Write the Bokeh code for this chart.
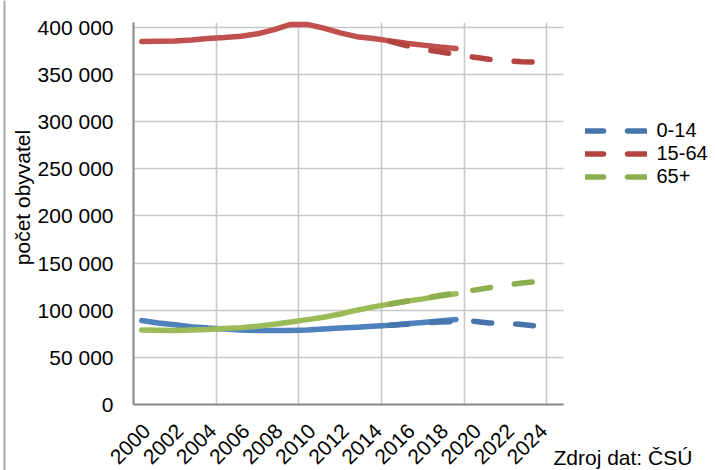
from math import pi
from bokeh.plotting import figure
from bokeh.models import (FixedTicker, Legend, LegendItem, Label, Range1d, Grid, Span)
from bokeh.embed import file_html
from bokeh.resources import INLINE

# ---- data ----
years_actual = list(range(2000, 2020))
years_proj = list(range(2015, 2025))

age_0_14 = [89000, 86500, 84500, 82500, 81000, 80000, 79000, 78500, 78500, 78500,
            79000, 80000, 81000, 82000, 83000, 84000, 85500, 87000, 88500, 90000]
age_15_64 = [384800, 385000, 385500, 386500, 388000, 389000, 390500, 393000, 397500, 403000,
             403000, 399000, 394000, 390000, 388000, 385500, 383000, 381000, 379000, 377500]
age_65 = [79000, 78800, 78500, 79000, 79500, 80500, 81500, 83000, 85000, 87500,
          90000, 92500, 96000, 100000, 103500, 106500, 109500, 112000, 115000, 117500]

proj_0_14 = [84000, 85000, 86500, 87500, 88000, 88500, 86500, 86300, 84800, 83000]
proj_15_64 = [385000, 380500, 376500, 374000, 371000, 368500, 366000, 364500, 363500, 363000]
proj_65 = [106500, 109500, 112500, 115500, 118500, 121000, 123800, 126500, 128800, 130500]

series_labels = ["0-14", "15-64", "65+"]
x_label_years = list(range(2000, 2025, 2))
y_ticks = [0, 50000, 100000, 150000, 200000, 250000, 300000, 350000, 400000]
y_tick_labels = ["0", "50 000", "100 000", "150 000", "200 000", "250 000",
                 "300 000", "350 000", "400 000"]
y_title = "počet obyvatel"
source_note = "Zdroj dat: ČSÚ"

# ---- layout (pixel geometry of the plot area inside the 715x470 canvas) ----
W, H = 715, 470
PL, PR, PT, PB = 133, 563, 22, 404          # plot-area edges in pixels
X0, X1 = 1999.5, 2025.5                    # category axis extent (26 years)
Y0, Y1 = 0, 405000
kx = (X1 - X0) / (PR - PL)
ky = (Y1 - Y0) / (PB - PT)
x_range = Range1d(X0 - PL * kx, X1 + (W - PR) * kx)
y_range = Range1d(Y0 - (H - PB) * ky, Y1 + PT * ky)

FONT = "Liberation Sans"
col_solid = ["#4F81BD", "#C0504D", "#9BBB59"]
col_dash = ["#4674AB", "#B3433F", "#8DAE4E"]
LW = 5.5
GRID_COL = "#C8C8C8"
AXIS_COL = "#8C8C8C"

p = figure(width=W, height=H, output_backend="svg", toolbar_location=None,
           x_range=x_range, y_range=y_range,
           min_border_left=0, min_border_right=0, min_border_top=0,
           min_border_bottom=0)
p.outline_line_color = None
p.background_fill_color = "white"
p.border_fill_color = "white"

# chart-area border on the far left
p.add_layout(Span(location=x_range.start + 4 * kx, dimension="height",
                  line_color="#A6A6A6", line_width=2))

# grids: vertical lines every 5 categories (category boundaries)
grid_x = [X0 + 5 * i for i in range(6)]
has_cross = "cross_bounds" in Grid.properties()
if has_cross:
    p.xgrid.ticker = FixedTicker(ticks=grid_x)
    p.ygrid.ticker = FixedTicker(ticks=y_ticks)
    p.xgrid.cross_bounds = (Y0, Y1)
    p.ygrid.cross_bounds = (X0, X1)
    for g in (p.xgrid[0], p.ygrid[0]):
        g.grid_line_color = GRID_COL
        g.grid_line_width = 1.6
else:
    p.xgrid.visible = False
    p.ygrid.visible = False
    p.segment(x0=grid_x, y0=[Y0] * len(grid_x), x1=grid_x, y1=[Y1] * len(grid_x),
              line_color=GRID_COL, line_width=1.6)
    p.segment(x0=[X0] * len(y_ticks), y0=y_ticks, x1=[X1] * len(y_ticks), y1=y_ticks,
              line_color=GRID_COL, line_width=1.6)

# x axis (rotated labels, anchored a little right of the category centre, as in Excel)
label_shift = 5 * kx
x_tick_pos = [yr + label_shift for yr in x_label_years]
xa = p.xaxis[0]
xa.fixed_location = Y0
xa.bounds = (X0, X1)
xa.ticker = FixedTicker(ticks=x_tick_pos)
xa.major_label_overrides = {t: str(yr) for t, yr in zip(x_tick_pos, x_label_years)}
xa.major_label_orientation = pi / 4
xa.major_tick_in = 0
xa.major_tick_out = 0
xa.minor_tick_in = 0
xa.minor_tick_out = 0
xa.major_label_standoff = 23
xa.axis_line_color = AXIS_COL
xa.axis_line_width = 2
xa.major_label_text_font = FONT
xa.major_label_text_font_size = "21px"
xa.major_label_text_color = "#000000"

# y axis
ya = p.yaxis[0]
ya.fixed_location = X0
ya.bounds = (Y0, Y1)
ya.ticker = FixedTicker(ticks=y_ticks)
ya.major_label_overrides = {t: lab for t, lab in zip(y_ticks, y_tick_labels)}
ya.major_tick_in = 0
ya.major_tick_out = 0
ya.minor_tick_in = 0
ya.minor_tick_out = 0
ya.major_label_standoff = 20
ya.axis_line_color = AXIS_COL
ya.axis_line_width = 2
ya.major_label_text_font = FONT
ya.major_label_text_font_size = "21px"
ya.major_label_text_color = "#000000"

# actual data (solid)
for ys, c in zip([age_0_14, age_15_64, age_65], col_solid):
    p.line(years_actual, ys, line_color=c, line_width=LW,
           line_cap="round", line_join="round")

# projections (dashed)
proj_renderers = []
for ys, c in zip([proj_0_14, proj_15_64, proj_65], col_dash):
    r = p.line(years_proj, ys, line_color=c, line_width=LW, line_dash="18 24",
               line_cap="round", line_join="round")
    proj_renderers.append(r)

legend = Legend(items=[LegendItem(label=lab, renderers=[r])
                       for lab, r in zip(series_labels, proj_renderers)],
                location=(584.5, H - 187.5), padding=0, margin=0, spacing=0,
                label_height=23, glyph_height=23, glyph_width=62,
                label_standoff=10, border_line_color=None,
                background_fill_alpha=0,
                label_text_font=FONT, label_text_font_size="20px",
                label_text_color="#000000")
p.add_layout(legend)

p.add_layout(Label(x=x_range.start + 22 * kx, y=Y1 - (197 - PT) * ky, text=y_title,
                   angle=pi / 2, text_align="center", text_baseline="middle",
                   text_font=FONT, text_font_size="21px", text_color="#000000"))
p.add_layout(Label(x=X0 + (553 - PL) * kx, y=Y0 - (457 - PB) * ky, text=source_note,
                   text_align="left", text_baseline="alphabetic",
                   text_font=FONT, text_font_size="21px", text_color="#000000"))

open("out.html", "w").write(file_html(p, INLINE))
